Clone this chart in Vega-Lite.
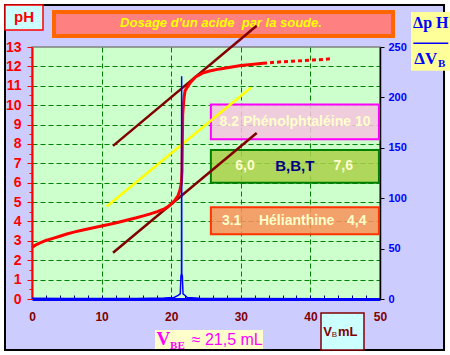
{
  "$schema": "https://vega.github.io/schema/vega-lite/v6.json",
  "width": 348,
  "height": 252,
  "autosize": {"type": "none"},
  "padding": {"left": 32, "top": 47, "right": 70, "bottom": 56},
  "background": "#CCCCFF",
  "config": {"view": {"fill": "#CCFFCC", "stroke": "#808080", "strokeWidth": 1.5}},
  "datasets": {
    "titrage": [
      {"V": 0, "pH": 2.65}, {"V": 0.5, "pH": 2.78}, {"V": 1, "pH": 2.87}, {"V": 2, "pH": 3.02},
      {"V": 3, "pH": 3.13}, {"V": 4, "pH": 3.24}, {"V": 5, "pH": 3.35}, {"V": 6, "pH": 3.45},
      {"V": 7, "pH": 3.53}, {"V": 8, "pH": 3.61}, {"V": 9, "pH": 3.69}, {"V": 10, "pH": 3.77},
      {"V": 11, "pH": 3.84}, {"V": 12, "pH": 3.92}, {"V": 13, "pH": 4.01}, {"V": 14, "pH": 4.1},
      {"V": 15, "pH": 4.19}, {"V": 16, "pH": 4.29}, {"V": 17, "pH": 4.39}, {"V": 18, "pH": 4.51},
      {"V": 19, "pH": 4.65}, {"V": 19.5, "pH": 4.75}, {"V": 20, "pH": 4.9}, {"V": 20.5, "pH": 5.08},
      {"V": 21, "pH": 5.35}, {"V": 21.26, "pH": 5.62}, {"V": 21.45, "pH": 5.97}, {"V": 21.55, "pH": 6.6},
      {"V": 21.6, "pH": 8.0}, {"V": 21.65, "pH": 9.5}, {"V": 21.75, "pH": 10.0}, {"V": 21.85, "pH": 10.4},
      {"V": 22.0, "pH": 10.75}, {"V": 22.7, "pH": 11.15}, {"V": 23.5, "pH": 11.45}, {"V": 24.5, "pH": 11.65},
      {"V": 25.5, "pH": 11.76}, {"V": 27, "pH": 11.87}, {"V": 28.5, "pH": 11.96}, {"V": 30, "pH": 12.04},
      {"V": 31.5, "pH": 12.1}, {"V": 33.2, "pH": 12.16}, {"V": 34.5, "pH": 12.2}, {"V": 36, "pH": 12.24},
      {"V": 37.5, "pH": 12.27}, {"V": 39, "pH": 12.3}, {"V": 40.5, "pH": 12.33}, {"V": 42, "pH": 12.36},
      {"V": 43, "pH": 12.4}
    ],
    "derivee": [
      {"V": 0, "d": 0.8}, {"V": 5, "d": 0.6}, {"V": 10, "d": 0.5}, {"V": 15, "d": 0.6},
      {"V": 19, "d": 1}, {"V": 20.4, "d": 1.5}, {"V": 21, "d": 3.5}, {"V": 21.3, "d": 5},
      {"V": 21.4, "d": 23}, {"V": 21.48, "d": 25}, {"V": 21.5, "d": 221}, {"V": 21.52, "d": 25},
      {"V": 21.6, "d": 23}, {"V": 21.7, "d": 5}, {"V": 22, "d": 3.5}, {"V": 22.3, "d": 1.5},
      {"V": 24, "d": 0.8}, {"V": 30, "d": 0.4}, {"V": 43, "d": 0.2}
    ],
    "tangentes": [
      {"droite": "haute", "V": 11.64, "pH": 7.9}, {"droite": "haute", "V": 32.28, "pH": 14.1},
      {"droite": "milieu", "V": 10.73, "pH": 4.77}, {"droite": "milieu", "V": 31.47, "pH": 10.91},
      {"droite": "basse", "V": 11.64, "pH": 2.39}, {"droite": "basse", "V": 32.28, "pH": 8.56}
    ],
    "indicateurs": [
      {"indicateur": "Phénolphtaléine", "bas": 8.24, "haut": 10.04},
      {"indicateur": "B,B,T", "bas": 6.0, "haut": 7.69},
      {"indicateur": "Hélianthine", "bas": 3.34, "haut": 4.73}
    ],
    "vide": [{}]
  },
  "layer": [
    {
      "layer": [
        {"data": {"name": "titrage"}, "transform": [{"filter": "datum.V <= 33.2"}], "mark": {"type": "line", "color": "#FF0000", "strokeWidth": 3, "opacity": 0},
         "encoding": {
           "x": {"field": "V", "type": "quantitative", "scale": {"domain": [0, 50], "nice": false},
                 "axis": {"title": null, "values": [0, 2, 4, 6, 8, 10, 12, 14, 16, 18, 20, 22, 24, 26, 28, 30, 32, 34, 36, 38, 40, 42, 44, 46, 48, 50],
                          "tickCount": 100,
                          "labelExpr": "datum.value % 10 === 0 ? '' + datum.value : ''",
                          "grid": true, "gridColor": "#008000", "gridDash": [5, 3], "gridWidth": 1,
                          "gridOpacity": {"condition": {"test": "datum.value % 10 === 0 && datum.value > 0 && datum.value < 50", "value": 1}, "value": 0},
                          "domainColor": "#0000FF", "domainWidth": 3, "tickColor": "#000080", "tickSize": -4, "tickWidth": 1,
                          "labelColor": "#800000", "labelFont": "Liberation Sans", "labelFontSize": 12, "labelFontWeight": "bold",
                          "labelPadding": 16, "labelFlush": false, "labelOverlap": false, "labelBound": false}},
           "y": {"field": "pH", "type": "quantitative", "scale": {"domain": [0, 13], "nice": false},
                 "axis": {"title": null, "values": [0, 0.5, 1, 1.5, 2, 2.5, 3, 3.5, 4, 4.5, 5, 5.5, 6, 6.5, 7, 7.5, 8, 8.5, 9, 9.5, 10, 10.5, 11, 11.5, 12, 12.5, 13],
                          "tickCount": 100,
                          "labelExpr": "datum.value % 1 === 0 ? '' + datum.value : ''",
                          "grid": true, "gridColor": "#008000", "gridDash": [5, 3], "gridWidth": 1,
                          "gridOpacity": {"condition": {"test": "datum.value % 1 === 0 && datum.value > 0 && datum.value < 13", "value": 1}, "value": 0},
                          "domainColor": "#FF0000", "domainWidth": 2, "tickColor": "#FF0000", "tickWidth": 1,
                          "tickSize": {"condition": {"test": "datum.value % 1 === 0", "value": 5}, "value": 3},
                          "labelColor": "#FF0000", "labelFont": "Liberation Sans", "labelFontSize": 14, "labelFontWeight": "bold",
                          "labelPadding": 6, "labelFlush": false, "labelOverlap": false, "labelBound": false}}
         }},
        {"data": {"name": "vide"}, "mark": {"type": "rect", "fillOpacity": 0, "stroke": "#FFFFFF", "strokeWidth": 10},
         "encoding": {"x": {"datum": -4.598, "type": "quantitative"}, "x2": {"datum": 60.06},
                      "y": {"datum": 15.424, "type": "quantitative"}, "y2": {"datum": -2.889}}},
        {"data": {"name": "vide"}, "mark": {"type": "rect", "fillOpacity": 0, "stroke": "#000000", "strokeWidth": 2},
         "encoding": {"x": {"datum": -3.879, "type": "quantitative"}, "x2": {"datum": 59.2},
                      "y": {"datum": 15.166, "type": "quantitative"}, "y2": {"datum": -2.631}}},
        {"data": {"name": "vide"}, "mark": {"type": "rect", "fill": "#CCFFFF", "stroke": "#FF0000", "strokeWidth": 1.5},
         "encoding": {"x": {"datum": -3.879, "type": "quantitative"}, "x2": {"datum": 1.58},
                      "y": {"datum": 15.166, "type": "quantitative"}, "y2": {"datum": 13.876}}},
        {"data": {"name": "vide"}, "mark": {"type": "text", "text": "pH", "color": "#FF0000", "font": "Liberation Sans", "fontSize": 15, "fontWeight": "bold", "align": "center", "baseline": "middle"},
         "encoding": {"x": {"datum": -1.149, "type": "quantitative"}, "y": {"datum": 14.522, "type": "quantitative"}}},
        {"data": {"name": "vide"}, "mark": {"type": "rect", "fill": "#FF8080", "stroke": "#FF6600", "strokeWidth": 4},
         "encoding": {"x": {"datum": 3.161, "type": "quantitative"}, "x2": {"datum": 51.868},
                      "y": {"datum": 14.805, "type": "quantitative"}, "y2": {"datum": 13.567}}},
        {"data": {"name": "vide"}, "mark": {"type": "text", "text": "Dosage d'un acide \u00a0par la soude.", "color": "#FFFF00", "font": "Liberation Sans", "fontSize": 13, "fontWeight": "bold", "fontStyle": "italic", "align": "center", "baseline": "middle"},
         "encoding": {"x": {"datum": 27.155, "type": "quantitative"}, "y": {"datum": 14.238, "type": "quantitative"}}},
        {"data": {"name": "vide"}, "mark": {"type": "rect", "fill": "#FFFF99"},
         "encoding": {"x": {"datum": 54.454, "type": "quantitative"}, "x2": {"datum": 60.345},
                      "y": {"datum": 14.805, "type": "quantitative"}, "y2": {"datum": 11.77}}},
        {"data": {"name": "vide"}, "mark": {"type": "text", "text": "Δp H", "color": "#0000FF", "font": "Liberation Serif", "fontSize": 16, "fontWeight": "bold", "align": "center", "baseline": "middle"},
         "encoding": {"x": {"datum": 57.3, "type": "quantitative"}, "y": {"datum": 14.238, "type": "quantitative"}}},
        {"data": {"name": "vide"}, "mark": {"type": "rule", "color": "#0000FF", "strokeWidth": 1.5},
         "encoding": {"x": {"datum": 54.79, "type": "quantitative"}, "x2": {"datum": 59.81},
                      "y": {"datum": 13.19, "type": "quantitative"}}},
        {"data": {"name": "vide"}, "mark": {"type": "text", "text": "ΔV", "color": "#0000FF", "font": "Liberation Serif", "fontSize": 17, "fontWeight": "bold", "align": "center", "baseline": "middle"},
         "encoding": {"x": {"datum": 56.58, "type": "quantitative"}, "y": {"datum": 12.38, "type": "quantitative"}}},
        {"data": {"name": "vide"}, "mark": {"type": "text", "text": "B", "color": "#0000FF", "font": "Liberation Serif", "fontSize": 11, "fontWeight": "bold", "align": "center", "baseline": "middle"},
         "encoding": {"x": {"datum": 58.87, "type": "quantitative"}, "y": {"datum": 12.14, "type": "quantitative"}}},
        {"data": {"name": "vide"}, "mark": {"type": "rect", "fill": "#FFFFCC"},
         "encoding": {"x": {"datum": 17.672, "type": "quantitative"}, "x2": {"datum": 33.19},
                      "y": {"datum": -1.599, "type": "quantitative"}, "y2": {"datum": -2.579}}},
        {"data": {"name": "vide"}, "mark": {"type": "text", "text": "V", "color": "#FF00FF", "font": "Liberation Serif", "fontSize": 19, "fontWeight": "bold", "align": "center", "baseline": "alphabetic"},
         "encoding": {"x": {"datum": 18.87, "type": "quantitative"}, "y": {"datum": -2.373, "type": "quantitative"}}},
        {"data": {"name": "vide"}, "mark": {"type": "text", "text": "BE", "color": "#FF00FF", "font": "Liberation Serif", "fontSize": 11, "fontWeight": "bold", "align": "center", "baseline": "alphabetic"},
         "encoding": {"x": {"datum": 20.9, "type": "quantitative"}, "y": {"datum": -2.58, "type": "quantitative"}}},
        {"data": {"name": "vide"}, "mark": {"type": "text", "text": "≈ 21,5 mL", "color": "#FF00FF", "font": "Liberation Sans", "fontSize": 16, "align": "left", "baseline": "alphabetic"},
         "encoding": {"x": {"datum": 22.95, "type": "quantitative"}, "y": {"datum": -2.373, "type": "quantitative"}}},
        {"data": {"name": "vide"}, "mark": {"type": "rect", "fill": "#CCFFFF", "stroke": "#800000", "strokeWidth": 1.5},
         "encoding": {"x": {"datum": 41.523, "type": "quantitative"}, "x2": {"datum": 47.701},
                      "y": {"datum": -0.722, "type": "quantitative"}, "y2": {"datum": -2.631}}},
        {"data": {"name": "vide"}, "mark": {"type": "text", "text": "V", "color": "#800000", "font": "Liberation Sans", "fontSize": 13, "fontWeight": "bold", "align": "left", "baseline": "alphabetic"},
         "encoding": {"x": {"datum": 41.85, "type": "quantitative"}, "y": {"datum": -1.909, "type": "quantitative"}}},
        {"data": {"name": "vide"}, "mark": {"type": "text", "text": "B", "color": "#800000", "font": "Liberation Sans", "fontSize": 8, "align": "left", "baseline": "alphabetic"},
         "encoding": {"x": {"datum": 43.06, "type": "quantitative"}, "y": {"datum": -1.96, "type": "quantitative"}}},
        {"data": {"name": "vide"}, "mark": {"type": "text", "text": "mL", "color": "#800000", "font": "Liberation Sans", "fontSize": 13, "fontWeight": "bold", "align": "left", "baseline": "alphabetic"},
         "encoding": {"x": {"datum": 43.97, "type": "quantitative"}, "y": {"datum": -1.909, "type": "quantitative"}}},
        {"data": {"name": "indicateurs"}, "mark": {"type": "rect", "strokeWidth": 2, "fillOpacity": 0.85},
         "encoding": {
           "x": {"datum": 25.7, "type": "quantitative"}, "x2": {"datum": 49.85},
           "y": {"field": "haut", "type": "quantitative"}, "y2": {"field": "bas"},
           "fill": {"field": "indicateur", "type": "nominal", "scale": {"domain": ["Phénolphtaléine", "B,B,T", "Hélianthine"], "range": ["#F6C4DE", "#A8D048", "#F89058"]}, "legend": null},
           "stroke": {"field": "indicateur", "type": "nominal", "scale": {"domain": ["Phénolphtaléine", "B,B,T", "Hélianthine"], "range": ["#FF00FF", "#008000", "#FF3300"]}, "legend": null}
         }},
        {"data": {"name": "vide"}, "mark": {"type": "text", "text": "8.2 Phénolphtaléine 10", "color": "#FFFFCC", "font": "Liberation Sans", "fontSize": 14, "fontWeight": "bold", "align": "center", "baseline": "middle"},
         "encoding": {"x": {"datum": 37.79, "type": "quantitative"}, "y": {"datum": 9.14, "type": "quantitative"}}},
        {"data": {"name": "vide"}, "mark": {"type": "text", "text": "6,0", "color": "#FFFFCC", "font": "Liberation Sans", "fontSize": 14, "fontWeight": "bold", "align": "center", "baseline": "middle"},
         "encoding": {"x": {"datum": 30.6, "type": "quantitative"}, "y": {"datum": 6.85, "type": "quantitative"}}},
        {"data": {"name": "vide"}, "mark": {"type": "text", "text": "B,B,T", "color": "#000080", "font": "Liberation Sans", "fontSize": 15, "fontWeight": "bold", "align": "center", "baseline": "middle"},
         "encoding": {"x": {"datum": 37.76, "type": "quantitative"}, "y": {"datum": 6.85, "type": "quantitative"}}},
        {"data": {"name": "vide"}, "mark": {"type": "text", "text": "7,6", "color": "#FFFFCC", "font": "Liberation Sans", "fontSize": 14, "fontWeight": "bold", "align": "center", "baseline": "middle"},
         "encoding": {"x": {"datum": 44.73, "type": "quantitative"}, "y": {"datum": 6.85, "type": "quantitative"}}},
        {"data": {"name": "vide"}, "mark": {"type": "text", "text": "3.1", "color": "#FFFFCC", "font": "Liberation Sans", "fontSize": 14, "fontWeight": "bold", "align": "center", "baseline": "middle"},
         "encoding": {"x": {"datum": 28.69, "type": "quantitative"}, "y": {"datum": 4.03, "type": "quantitative"}}},
        {"data": {"name": "vide"}, "mark": {"type": "text", "text": "Hélianthine", "color": "#FFFFCC", "font": "Liberation Sans", "fontSize": 14, "fontWeight": "bold", "align": "center", "baseline": "middle"},
         "encoding": {"x": {"datum": 38.03, "type": "quantitative"}, "y": {"datum": 4.03, "type": "quantitative"}}},
        {"data": {"name": "vide"}, "mark": {"type": "text", "text": "4,4", "color": "#FFFFCC", "font": "Liberation Sans", "fontSize": 14, "fontWeight": "bold", "align": "center", "baseline": "middle"},
         "encoding": {"x": {"datum": 46.65, "type": "quantitative"}, "y": {"datum": 4.03, "type": "quantitative"}}},
        {"data": {"name": "tangentes"}, "mark": {"type": "line", "strokeWidth": 2.5},
         "encoding": {
           "x": {"field": "V", "type": "quantitative"},
           "y": {"field": "pH", "type": "quantitative"},
           "detail": {"field": "droite", "type": "nominal"},
           "color": {"field": "droite", "type": "nominal", "scale": {"domain": ["haute", "milieu", "basse"], "range": ["#800000", "#FFFF00", "#800000"]}, "legend": null}
         }},
        {"data": {"name": "titrage"}, "transform": [{"filter": "datum.V >= 33.2"}], "mark": {"type": "line", "color": "#FF0000", "strokeWidth": 3, "strokeDash": [4, 3]},
         "encoding": {"x": {"field": "V", "type": "quantitative"}, "y": {"field": "pH", "type": "quantitative"}}},
        {"data": {"name": "titrage"}, "transform": [{"filter": "datum.V <= 33.2"}], "mark": {"type": "line", "color": "#FF0000", "strokeWidth": 3},
         "encoding": {"x": {"field": "V", "type": "quantitative"}, "y": {"field": "pH", "type": "quantitative"}}}
      ]
    },
    {
      "data": {"name": "derivee"},
      "mark": {"type": "line", "color": "#0000FF", "strokeWidth": 1.5},
      "encoding": {
        "x": {"field": "V", "type": "quantitative"},
        "y": {"field": "d", "type": "quantitative", "scale": {"domain": [0, 250], "nice": false},
              "axis": {"orient": "right", "title": null, "values": [0, 50, 100, 150, 200, 250], "grid": false, "tickCount": 100,
                       "domainColor": "#000000", "domainWidth": 1.5, "tickColor": "#000000", "tickSize": 4,
                       "labelColor": "#0000FF", "labelFont": "Liberation Sans", "labelFontSize": 11, "labelFontWeight": "bold",
                       "labelPadding": 4, "labelFlush": false, "labelOverlap": false, "labelBound": false}}
      }
    }
  ],
  "resolve": {"scale": {"y": "independent"}}
}
